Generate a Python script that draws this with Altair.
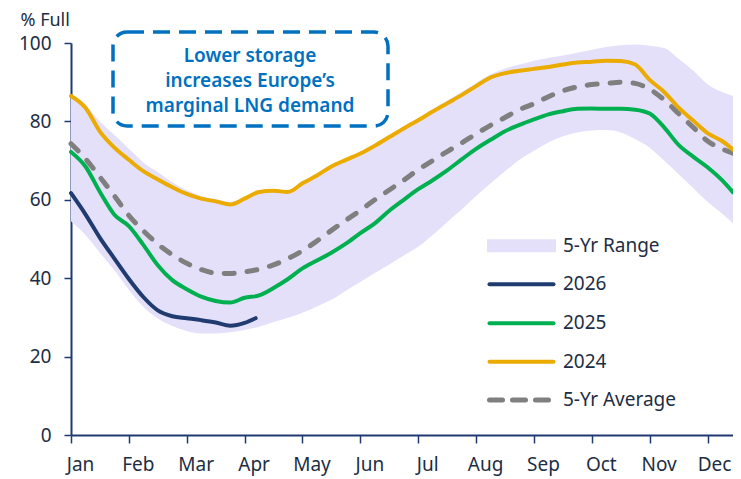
import altair as alt
import pandas as pd

# ---------------- data ----------------
months = ["Jan", "Feb", "Mar", "Apr", "May", "Jun", "Jul", "Aug", "Sep", "Oct", "Nov", "Dec"]

# position along the year, in months since 1 Jan
month_pos = [0, 0.25, 0.5, 0.75, 1, 1.25, 1.5, 1.75, 2, 2.25, 2.5, 2.75, 3, 3.25, 3.5, 3.75,
             4, 4.25, 4.5, 4.75, 5, 5.25, 5.5, 5.75, 6, 6.25, 6.5, 6.75, 7, 7.25, 7.5, 7.75,
             8, 8.25, 8.5, 8.75, 9, 9.25, 9.5, 9.75, 10, 10.25, 10.5, 10.75, 11, 11.25, 11.44]

range_upper = [86.5, 84.0, 80.0, 76.5, 73.0, 69.5, 67.0, 64.5, 62.5, 61.0, 60.2, 59.5, 60.5, 62.2, 62.5, 62.5,
               64.5, 66.5, 68.7, 70.5, 72.0, 74.0, 76.3, 78.5, 80.8, 83.0, 85.3, 87.5, 89.8, 92.0, 93.5, 94.5,
               95.5, 96.2, 96.8, 97.5, 98.3, 99.0, 99.4, 99.6, 99.3, 98.7, 96.0, 93.0, 89.5, 87.5, 86.5]

range_lower = [54.5, 51.0, 46.5, 42.0, 37.0, 32.7, 29.7, 27.8, 26.5, 25.9, 25.9, 26.2, 26.8, 27.6, 28.8, 29.9,
               31.2, 32.8, 34.5, 36.8, 39.0, 41.3, 43.5, 45.8, 48.0, 51.0, 54.3, 57.5, 61.0, 64.2, 67.3, 70.2,
               72.5, 74.6, 76.2, 77.2, 77.7, 77.8, 77.2, 75.5, 73.3, 70.0, 66.5, 63.0, 59.5, 56.5, 54.0]

avg_5yr = [74.3, 70.5, 65.8, 61.0, 56.0, 52.1, 48.7, 46.0, 43.8, 42.2, 41.3, 41.2, 41.6, 42.3, 43.4, 45.0,
           47.0, 49.5, 52.2, 54.8, 57.3, 60.0, 62.5, 65.0, 67.7, 70.0, 72.3, 74.5, 76.8, 79.0, 81.0, 83.0,
           84.5, 86.3, 87.8, 88.8, 89.4, 89.7, 90.0, 89.7, 88.2, 85.5, 82.0, 78.5, 75.0, 73.0, 71.9]

y2024 = [86.5, 83.5, 77.4, 73.3, 70.2, 67.3, 65.2, 63.2, 61.5, 60.3, 59.6, 58.8, 60.3, 62.0, 62.3, 62.0,
         64.2, 66.2, 68.5, 70.2, 71.8, 73.8, 76.0, 78.2, 80.3, 82.5, 84.6, 86.7, 89.0, 91.2, 92.3, 92.9,
         93.4, 93.9, 94.5, 95.0, 95.2, 95.5, 95.4, 94.5, 90.6, 87.5, 83.5, 80.2, 77.0, 75.0, 72.8]

y2025 = [72.2, 68.5, 62.0, 56.2, 53.3, 48.5, 43.3, 39.5, 37.2, 35.3, 34.2, 33.8, 35.0, 35.6, 37.5, 39.8,
         42.5, 44.5, 46.5, 48.8, 51.5, 54.0, 57.2, 60.0, 62.7, 65.0, 67.5, 70.3, 73.0, 75.3, 77.5, 79.1,
         80.5, 81.8, 82.6, 83.2, 83.3, 83.2, 83.2, 83.0, 82.0, 78.5, 74.0, 71.0, 68.3, 65.0, 61.9]

month_pos_2026 = [0, 0.25, 0.5, 0.75, 1, 1.25, 1.5, 1.75, 2, 2.25, 2.5, 2.75, 3, 3.19]
y2026 = [61.7, 56.3, 50.3, 45.0, 39.8, 35.2, 31.8, 30.3, 29.8, 29.3, 28.7, 27.9, 28.6, 29.8]

legend_labels = ["5-Yr Range", "2026", "2025", "2024", "5-Yr Average"]
note_lines = ["Lower storage", "increases Europe\u2019s", "marginal LNG demand"]

# ---------------- styling ----------------
FONT = "Noto Sans"
TXT = "#1d2e44"
AXC = "#1f3a70"
C_RANGE = "#e4e0fa"
C_2026 = "#1f3b6f"
C_2025 = "#00b050"
C_2024 = "#ebab00"
C_AVG = "#7f7f7f"
C_NOTE = "#0070c0"
LW = 4
DASH_W = 5
DASH = [10, 13]

df = pd.DataFrame({
    "m": month_pos, "upper": range_upper, "lower": range_lower,
    "avg": avg_5yr, "y2024": y2024, "y2025": y2025,
})
df26 = pd.DataFrame({"m": month_pos_2026, "y2026": y2026})

label_expr = "[" + ",".join("'%s'" % s for s in months) + "][datum.value]"

x_axis = alt.Axis(values=list(range(12)), labelExpr=label_expr, title=None, grid=False,
                  tickSize=8, tickWidth=1.5, tickColor=AXC, domainColor=AXC, domainWidth=2,
                  labelOffset={"condition": {"test": "datum.value == 11", "value": 6.5}, "value": 9},
                  labelPadding=12, labelFlush=False, labelOverlap=False,
                  labelFontSize=19, labelColor=TXT, labelFont=FONT)
y_axis = alt.Axis(values=[0, 20, 40, 60, 80, 100], title="% Full", grid=False,
                  tickSize=7, tickWidth=1.5, tickColor=AXC, domainColor=AXC, domainWidth=2,
                  labelPadding=13, labelFontSize=19, labelColor=TXT, labelFont=FONT,
                  labelFlush=False,
                  titleAngle=0, titleAlign="left", titleBaseline="alphabetic",
                  titleX=-51, titleY=-18, titleFontSize=18, titleFontWeight="normal",
                  titleColor=TXT, titleFont=FONT)

xs = alt.Scale(domain=[0, 11.44], nice=False, zero=False)
ys = alt.Scale(domain=[0, 100], nice=False)

X = alt.X("m:Q", scale=xs, axis=x_axis)

band = alt.Chart(df).mark_area(color=C_RANGE, opacity=1, interpolate="monotone").encode(
    x=X, y=alt.Y("lower:Q", scale=ys, axis=y_axis), y2="upper:Q")

def line(data, field, color, dash=None):
    kw = dict(color=color, strokeWidth=LW, interpolate="monotone", strokeCap="round", strokeJoin="round")
    if dash:
        kw["strokeDash"] = dash
        kw["strokeWidth"] = DASH_W
    return alt.Chart(data).mark_line(**kw).encode(
        x=X, y=alt.Y(field + ":Q", scale=ys, axis=y_axis))

l_avg = line(df, "avg", C_AVG, DASH)
l_2024 = line(df, "y2024", C_2024)
l_2025 = line(df, "y2025", C_2025)
l_2026 = line(df26, "y2026", C_2026)

one = pd.DataFrame({"k": [0]})

# annotation box
note_box = alt.Chart(one).mark_rect(
    fill="transparent", stroke=C_NOTE, strokeWidth=3.5, strokeDash=[17, 9], cornerRadius=14
).encode(x=alt.value(42), x2=alt.value(317), y=alt.value(-11), y2=alt.value(83))
note_text = alt.Chart(one).mark_text(
    font=FONT, fontSize=19, fontWeight=600, color=C_NOTE, align="center", baseline="middle",
    lineHeight=25
).encode(x=alt.value(179), y=alt.value(12.5), text=alt.value(note_lines))

# legend (manual, right-lower area)
leg_y = [202.7, 241.3, 280.3, 318.7, 357.0]
leg_x0, leg_x1, leg_tx = 416, 485, 492
leg_layers = []
leg_layers.append(alt.Chart(one).mark_rect(color=C_RANGE).encode(
    x=alt.value(leg_x0), x2=alt.value(leg_x1), y=alt.value(leg_y[0] - 6.5), y2=alt.value(leg_y[0] + 6.5)))
for yy, col, dash in [(leg_y[1], C_2026, None), (leg_y[2], C_2025, None), (leg_y[3], C_2024, None),
                      (leg_y[4], C_AVG, [13, 10])]:
    kw = dict(color=col, strokeWidth=LW, strokeCap="round")
    if dash:
        kw["strokeDash"] = dash
        kw["strokeWidth"] = DASH_W
    leg_layers.append(alt.Chart(one).mark_rule(**kw).encode(
        x=alt.value(leg_x0 + 2.5), x2=alt.value(leg_x1 - 2.5), y=alt.value(yy)))
for yy, lab in zip(leg_y, legend_labels):
    leg_layers.append(alt.Chart(one).mark_text(
        font=FONT, fontSize=19, color=TXT, align="left", baseline="middle"
    ).encode(x=alt.value(leg_tx), y=alt.value(yy), text=alt.value(lab)))

chart = alt.layer(band, l_avg, l_2024, l_2025, l_2026, note_box, note_text, *leg_layers).properties(
    width=662, height=392,
    autosize=alt.AutoSizeParams(type="none"),
    padding={"left": 63, "top": 35, "right": 0, "bottom": 44},
    background="white",
).configure_view(stroke=None)

chart.save("out.html", embed_options={"renderer": "svg", "actions": False})
